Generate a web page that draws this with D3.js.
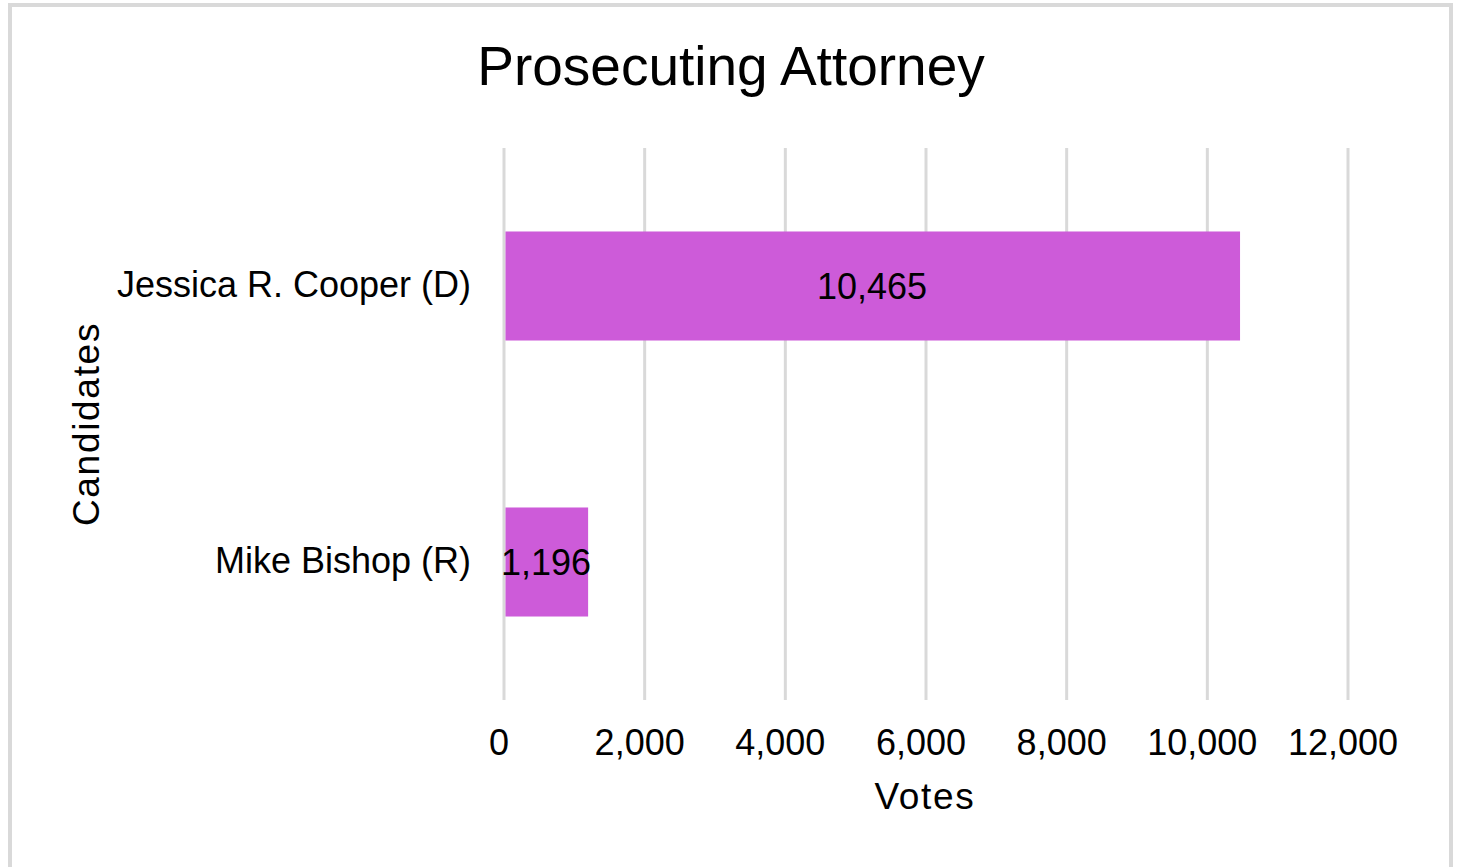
<!DOCTYPE html>
<html><head><meta charset="utf-8">
<script src="https://cdn.jsdelivr.net/npm/d3@7"></script>
<style>body{margin:0;background:#fff;font-family:"Liberation Sans",Arial,sans-serif}</style>
</head><body>
<svg id="c" width="1463" height="867"></svg>
<script>
const categories = ["Jessica R. Cooper (D)", "Mike Bishop (R)"];
const votes = [10465, 1196];
const xTicks = [0, 2000, 4000, 6000, 8000, 10000, 12000];
const title = "Prosecuting Attorney";
const xTitle = "Votes";
const yTitle = "Candidates";

const svg = d3.select("#c");
svg.append("rect").attr("x",10).attr("y",5).attr("width",1441).attr("height",870)
  .attr("fill","#fff").attr("stroke","#d9d9d9").attr("stroke-width",4);

const pL = 504, pR = 1348, pT = 148, pB = 700;
const x = d3.scaleLinear().domain([0,12000]).range([pL,pR]);
const y = d3.scaleBand().domain(categories).range([pT, pB]).paddingInner(0.605).paddingOuter(0.3025);

svg.append("g").selectAll("line").data(xTicks).join("line")
  .attr("x1",d=>x(d)).attr("x2",d=>x(d)).attr("y1",pT).attr("y2",pB)
  .attr("stroke","#d9d9d9").attr("stroke-width",3);

svg.append("g").selectAll("rect").data(categories).join("rect")
  .attr("x",x(0)+1.5).attr("y",d=>y(d)).attr("width",(d,i)=>x(votes[i])-x(0)-1.5)
  .attr("height",y.bandwidth()).attr("fill","#cd5bd9");

svg.append("g").selectAll("text").data(categories).join("text")
  .attr("x",(d,i)=>(x(0)+x(votes[i]))/2).attr("y",d=>y(d)+y.bandwidth()/2+13)
  .attr("text-anchor","middle").attr("font-size",36).attr("fill","#000")
  .text((d,i)=>d3.format(",")(votes[i]));

svg.append("g").selectAll("text").data(categories).join("text")
  .attr("x",471).attr("y",d=>y(d)+y.bandwidth()/2+11)
  .attr("text-anchor","end").attr("font-size",36).attr("fill","#000").text(d=>d);

svg.append("g").selectAll("text").data(xTicks).join("text")
  .attr("x",d=>x(d)-5).attr("y",755).attr("text-anchor","middle")
  .attr("font-size",36).attr("fill","#000").text(d=>d3.format(",")(d));

svg.append("text").attr("x",731).attr("y",85).attr("text-anchor","middle")
  .attr("font-size",55).attr("fill","#000").text(title);
svg.append("text").attr("x",925).attr("y",809).attr("text-anchor","middle")
  .attr("font-size",37).attr("letter-spacing",1.7).attr("fill","#000").text(xTitle);
svg.append("text").attr("transform","translate(99,424) rotate(-90)")
  .attr("text-anchor","middle").attr("font-size",37).attr("letter-spacing",1.7).attr("fill","#000").text(yTitle);
</script>
</body></html>
